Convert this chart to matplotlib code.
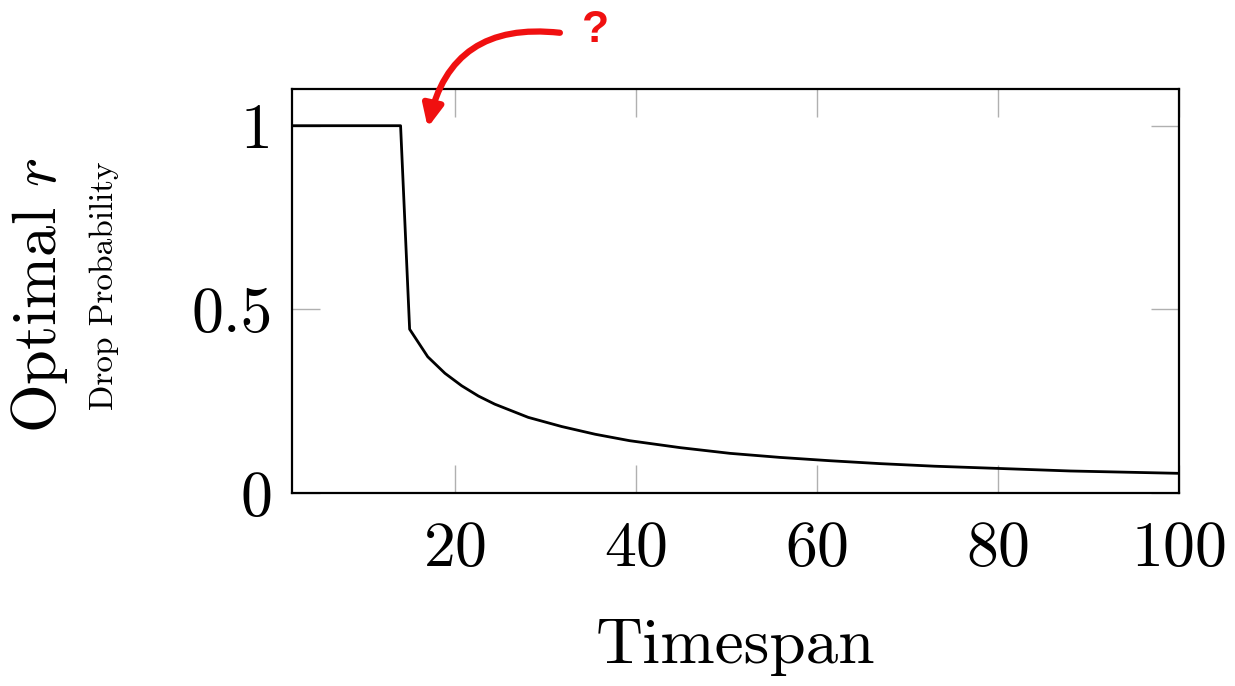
import matplotlib
matplotlib.use("Agg")
import matplotlib.pyplot as plt

plt.rcParams['font.family'] = 'serif'
plt.rcParams['font.serif'] = ['cmr10']
plt.rcParams['mathtext.fontset'] = 'cm'
plt.rcParams['axes.formatter.use_mathtext'] = True

# values
timespan = [2, 14, 15, 17, 18.9, 20.75, 22.6, 24.4, 28.1, 31.8, 35.5, 39.3,
            44.9, 50.4, 55.9, 61.4, 67, 73, 80, 88, 100]
optimal_r = [1.0, 1.0, 0.446, 0.371, 0.326, 0.292, 0.264, 0.242, 0.206, 0.181, 0.160, 0.1425,
             0.1235, 0.108, 0.097, 0.088, 0.080, 0.073, 0.067, 0.060, 0.0536]
x_ticks = [20, 40, 60, 80, 100]
y_ticks = [0, 0.5, 1]
y_labels = ['0', '0.5', '1']

fs = 46
fig = plt.figure(figsize=(12.35, 6.86), dpi=100)
ax = fig.add_axes([0.2364, 0.2813, 0.7183, 0.589])

ax.plot(timespan, optimal_r, color='black', lw=2.0, solid_joinstyle='round')
ax.set_xlim(2, 100)
ax.set_ylim(0, 1.1)
ax.set_xticks(x_ticks)
ax.set_yticks(y_ticks)
ax.set_yticklabels(y_labels)
ax.tick_params(direction='in', length=20, width=1, color='#b0b0b0',
               top=True, right=True, labelsize=fs)
ax.tick_params(axis='x', pad=20)
ax.tick_params(axis='y', pad=14)
for s in ax.spines.values():
    s.set_linewidth(1.6)

ax.set_xlabel('Timespan', size=47, labelpad=28)
fig.text(0.032, 0.570, r'Optimal $r$', rotation=90, size=45, ha='center', va='center')
fig.text(0.084, 0.584, 'Drop Probability', rotation=90, size=24, ha='center', va='center')

# red question mark with curved arrow
ax.annotate('', xy=(17.0, 0.995), xytext=(31.6, 1.253), annotation_clip=False,
            arrowprops=dict(arrowstyle='-|>,head_length=1.3,head_width=0.6', color='#f01010',
                            lw=4.5, connectionstyle='arc3,rad=0.45', shrinkA=0, shrinkB=0))
ax.text(35.5, 1.26, '?', color='#f01010', size=32, weight='bold', family='Liberation Sans',
        ha='center', va='center', clip_on=False)

fig.savefig('out.png', dpi=100)
